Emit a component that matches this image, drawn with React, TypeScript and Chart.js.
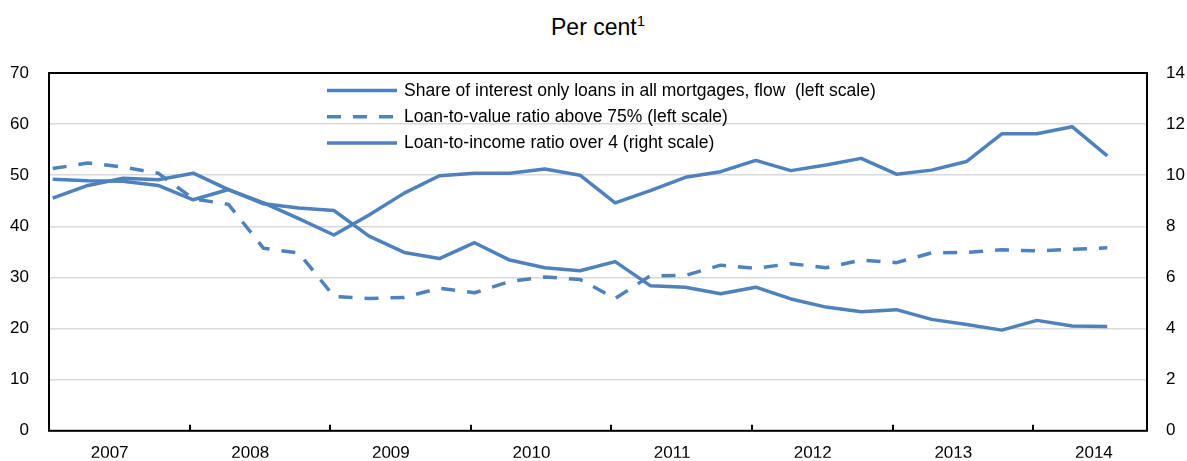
import React, { useEffect, useRef } from 'react';
import { Chart, registerables } from 'chart.js';

Chart.register(...registerables);

// ---------- data ----------
const QUARTERS = [
  '2007Q1', '2007Q2', '2007Q3', '2007Q4',
  '2008Q1', '2008Q2', '2008Q3', '2008Q4',
  '2009Q1', '2009Q2', '2009Q3', '2009Q4',
  '2010Q1', '2010Q2', '2010Q3', '2010Q4',
  '2011Q1', '2011Q2', '2011Q3', '2011Q4',
  '2012Q1', '2012Q2', '2012Q3', '2012Q4',
  '2013Q1', '2013Q2', '2013Q3', '2013Q4',
  '2014Q1', '2014Q2', '2014Q3',
];
const YEARS = ['2007', '2008', '2009', '2010', '2011', '2012', '2013', '2014'];

// left scale, per cent
const IO_SHARE = [
  45.5, 48.0, 49.4, 49.1, 50.4, 47.2, 44.4, 43.6,
  43.1, 38.1, 34.9, 33.7, 36.8, 33.4, 31.9, 31.3,
  33.1, 28.4, 28.1, 26.8, 28.1, 25.8, 24.2, 23.3,
  23.7, 21.8, 20.8, 19.7, 21.6, 20.5, 20.4,
];
// left scale, per cent
const LTV_ABOVE_75 = [
  51.3, 52.4, 51.6, 50.4, 45.4, 44.3, 35.7, 34.8,
  26.3, 25.9, 26.1, 27.9, 27.0, 29.2, 30.1, 29.6,
  25.9, 30.3, 30.4, 32.4, 31.8, 32.7, 31.9, 33.4,
  32.9, 34.8, 34.9, 35.4, 35.2, 35.5, 35.8,
];
// right scale, per cent
const LTI_OVER_4 = [
  9.84, 9.78, 9.76, 9.6, 9.04, 9.44, 8.92, 8.3,
  7.66, 8.44, 9.3, 9.98, 10.08, 10.08, 10.24, 10.0,
  8.92, 9.4, 9.92, 10.14, 10.58, 10.18, 10.4, 10.66,
  10.04, 10.2, 10.54, 11.62, 11.62, 11.9, 10.76,
];

const SERIES_LABELS = [
  'Share of interest only loans in all mortgages, flow  (left scale)',
  'Loan-to-value ratio above 75% (left scale)',
  'Loan-to-income ratio over 4 (right scale)',
];

const LEFT_MAX = 70;
const LEFT_STEP = 10;
const RIGHT_MAX = 14;
const RIGHT_STEP = 2;

// ---------- styling / layout ----------
const BLUE = '#4f81bd';
const FONT = '"Liberation Sans", Arial, sans-serif';
const NARROW = '"Liberation Sans Narrow", "Arial Narrow"';
const W = 1187;
const H = 461;
const X_MIN = -0.105; // axis starts just before first quarter (year boundary)
const X_MAX = 31.13;
const YEAR_BOUNDARY_OFFSET = 3.895;
const YEAR_LABEL_OFFSET = 1.62;

const toPoints = (arr: number[]) => arr.map((v, i) => ({ x: i, y: v }));

function narrowAvailable(): boolean {
  const c = document.createElement('canvas').getContext('2d');
  if (!c) return false;
  c.font = `40px ${NARROW}, monospace`;
  const a = c.measureText('Share of interest 2007').width;
  c.font = '40px monospace';
  const b = c.measureText('Share of interest 2007').width;
  return Math.abs(a - b) > 1;
}

export default function App() {
  const ref = useRef<HTMLCanvasElement | null>(null);

  useEffect(() => {
    if (!ref.current) return;
    const hasNarrow = narrowAvailable();
    const bodyFamily = hasNarrow ? `${NARROW}, ${FONT}` : FONT;
    const tickSize = hasNarrow ? 19.5 : 17;
    const legendSize = hasNarrow ? 21 : 17.5;

    const framePlugin = {
      id: 'frameAndLegend',
      beforeDatasetsDraw(chart: any) {
        const { ctx, chartArea: a, scales } = chart;
        ctx.save();
        ctx.strokeStyle = '#000';
        ctx.lineWidth = 2;
        ctx.strokeRect(a.left, a.top, a.right - a.left, a.bottom - a.top);
        ctx.beginPath();
        for (let k = 0; k < YEARS.length - 1; k++) {
          const px = Math.round(scales.x.getPixelForValue(YEAR_BOUNDARY_OFFSET + 4 * k));
          ctx.moveTo(px, a.bottom);
          ctx.lineTo(px, a.bottom - 6);
        }
        ctx.stroke();
        ctx.restore();
      },
      afterDatasetsDraw(chart: any) {
        const { ctx } = chart;
        const x0 = 327;
        const lineW = 70;
        const textX = 404;
        const y0 = 90.5;
        const dy = 26.2;
        ctx.save();
        chart.data.datasets.forEach((ds: any, i: number) => {
          const y = y0 + i * dy;
          ctx.beginPath();
          ctx.strokeStyle = ds.borderColor;
          ctx.lineWidth = ds.borderWidth;
          ctx.lineCap = 'butt';
          ctx.setLineDash(ds.borderDash || []);
          ctx.moveTo(x0, y);
          ctx.lineTo(x0 + lineW, y);
          ctx.stroke();
          ctx.setLineDash([]);
          ctx.fillStyle = '#000';
          ctx.font = `${legendSize}px ${bodyFamily}`;
          ctx.textBaseline = 'middle';
          ctx.textAlign = 'left';
          ctx.fillText(ds.label, textX, y + 0.5);
        });
        ctx.restore();
      },
    };

    const common = {
      borderColor: BLUE,
      borderWidth: 3.5,
      pointRadius: 0,
      pointHoverRadius: 0,
      tension: 0,
      fill: false,
      borderJoinStyle: 'round' as const,
      borderCapStyle: 'butt' as const,
    };
    const chart = new Chart(ref.current, {
      type: 'line',
      data: {
        labels: QUARTERS,
        datasets: [
          { ...common, label: SERIES_LABELS[0], data: toPoints(IO_SHARE), yAxisID: 'y' },
          { ...common, label: SERIES_LABELS[1], data: toPoints(LTV_ABOVE_75), yAxisID: 'y', borderDash: [14, 12] },
          { ...common, label: SERIES_LABELS[2], data: toPoints(LTI_OVER_4), yAxisID: 'y1' },
        ],
      },
      options: {
        animation: false,
        responsive: false,
        devicePixelRatio: 1,
        layout: { padding: { top: 73, left: 0, right: 0, bottom: 0 } },
        plugins: {
          legend: { display: false },
          tooltip: { enabled: false },
          title: { display: false },
        },
        scales: {
          x: {
            type: 'linear',
            min: X_MIN,
            max: X_MAX,
            grid: { display: false, drawTicks: false },
            border: { display: false },
            afterBuildTicks(scale: any) {
              scale.ticks = YEARS.map((_, k) => ({ value: YEAR_LABEL_OFFSET + 4 * k }));
            },
            afterFit(scale: any) {
              scale.height = H - 434;
            },
            ticks: {
              autoSkip: false,
              maxRotation: 0,
              minRotation: 0,
              padding: 12,
              color: '#000',
              font: { family: bodyFamily, size: tickSize },
              callback: (_v: any, i: number) => YEARS[i],
            },
          },
          y: {
            type: 'linear',
            position: 'left',
            min: 0,
            max: LEFT_MAX,
            grid: { color: '#d9d9d9', lineWidth: 1.5, drawTicks: false },
            border: { display: false },
            afterFit(scale: any) {
              scale.width = 49;
            },
            ticks: {
              stepSize: LEFT_STEP,
              padding: 20,
              color: '#000',
              font: { family: bodyFamily, size: tickSize },
            },
          },
          y1: {
            type: 'linear',
            position: 'right',
            min: 0,
            max: RIGHT_MAX,
            grid: { display: false, drawTicks: false, drawOnChartArea: false },
            border: { display: false },
            afterFit(scale: any) {
              scale.width = W - 1147;
            },
            ticks: {
              stepSize: RIGHT_STEP,
              padding: 19,
              color: '#000',
              font: { family: bodyFamily, size: tickSize },
            },
          },
        },
      } as any,
      plugins: [framePlugin],
    });
    return () => chart.destroy();
  }, []);

  return (
    <div
      style={{
        position: 'absolute',
        left: 0,
        top: 0,
        width: W,
        height: H,
        background: '#fff',
        overflow: 'hidden',
      }}
    >
      <div
        style={{
          position: 'absolute',
          left: 49,
          width: 1098,
          top: 16,
          textAlign: 'center',
          fontFamily: FONT,
          fontSize: 23,
          lineHeight: '23px',
          color: '#000',
          whiteSpace: 'nowrap',
        }}
      >
        Per cent
        <span style={{ fontSize: 15, position: 'relative', top: -9 }}>1</span>
      </div>
      <canvas ref={ref} width={W} height={H} style={{ position: 'absolute', left: 0, top: 0, width: W, height: H }} />
    </div>
  );
}
